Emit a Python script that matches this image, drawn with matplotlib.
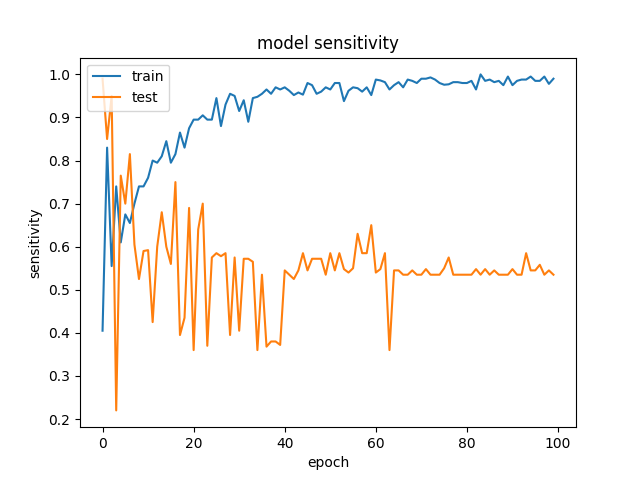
import matplotlib
matplotlib.use('Agg')
import matplotlib.pyplot as plt

train = [0.405, 0.83, 0.555, 0.74, 0.61, 0.675, 0.655, 0.70, 0.74, 0.74,
         0.76, 0.80, 0.795, 0.81, 0.845, 0.795, 0.815, 0.865, 0.83, 0.875,
         0.895, 0.895, 0.905, 0.895, 0.895, 0.945, 0.88, 0.93, 0.955, 0.95,
         0.915, 0.94, 0.89, 0.945, 0.948, 0.955, 0.965, 0.955, 0.97, 0.965,
         0.97, 0.962, 0.952, 0.958, 0.953, 0.98, 0.975, 0.955, 0.96, 0.97,
         0.965, 0.98, 0.98, 0.938, 0.962, 0.97, 0.968, 0.96, 0.97, 0.952,
         0.988, 0.986, 0.982, 0.965, 0.975, 0.982, 0.97, 0.988, 0.985, 0.98,
         0.99, 0.99, 0.993, 0.988, 0.98, 0.976, 0.977, 0.982, 0.982, 0.98,
         0.98, 0.985, 0.965, 1.0, 0.985, 0.988, 0.982, 0.985, 0.975, 0.995,
         0.975, 0.985, 0.988, 0.988, 0.995, 0.985, 0.985, 0.995, 0.978, 0.99]

test = [0.99, 0.85, 0.95, 0.22, 0.765, 0.70, 0.815, 0.605, 0.525, 0.59,
        0.592, 0.425, 0.60, 0.68, 0.60, 0.56, 0.75, 0.395, 0.435, 0.69,
        0.36, 0.64, 0.70, 0.37, 0.575, 0.585, 0.578, 0.585, 0.395, 0.575,
        0.405, 0.572, 0.572, 0.565, 0.36, 0.535, 0.368, 0.38, 0.38, 0.372,
        0.545, 0.535, 0.525, 0.545, 0.585, 0.545, 0.572, 0.572, 0.572, 0.535,
        0.585, 0.545, 0.585, 0.548, 0.54, 0.55, 0.63, 0.585, 0.585, 0.65,
        0.54, 0.548, 0.585, 0.36, 0.545, 0.545, 0.535, 0.535, 0.545, 0.535,
        0.535, 0.548, 0.535, 0.535, 0.535, 0.55, 0.575, 0.535, 0.535, 0.535,
        0.535, 0.535, 0.548, 0.535, 0.548, 0.535, 0.545, 0.535, 0.535, 0.535,
        0.548, 0.535, 0.535, 0.585, 0.545, 0.545, 0.558, 0.535, 0.545, 0.535]

plt.figure(figsize=(6.4, 4.8), dpi=100)
plt.plot(train)
plt.plot(test)
plt.title('model sensitivity')
plt.ylabel('sensitivity')
plt.xlabel('epoch')
plt.legend(['train', 'test'], loc='upper left')
plt.savefig('out.png')
